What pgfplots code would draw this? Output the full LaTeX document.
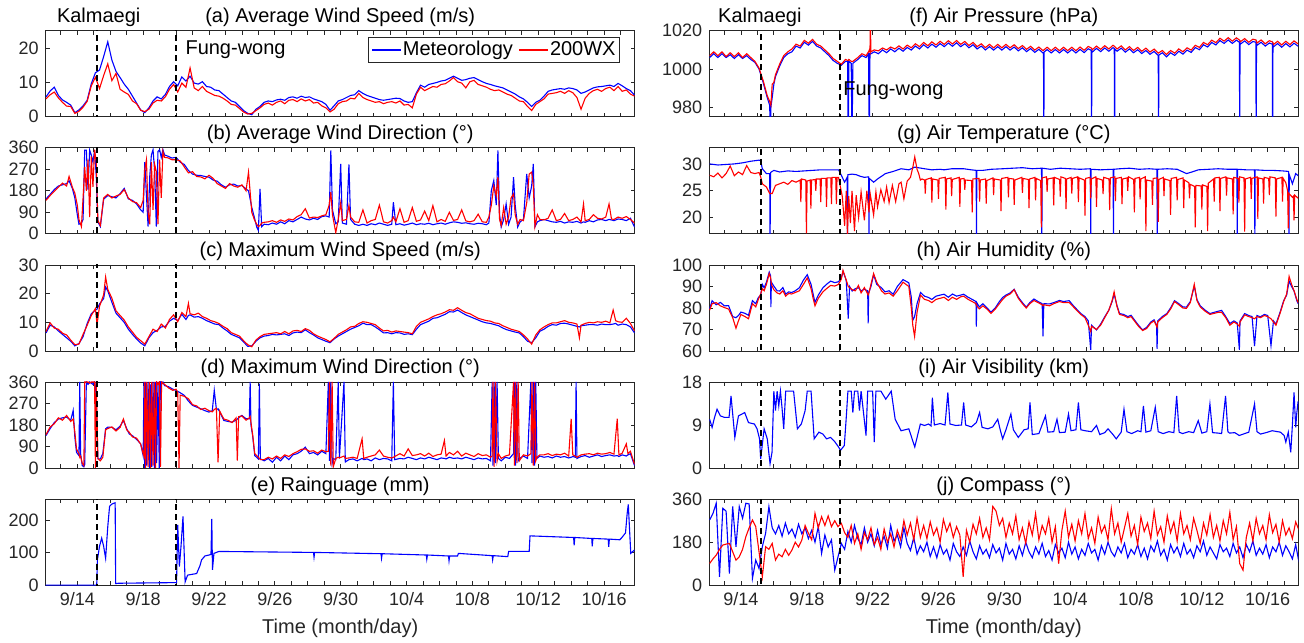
\documentclass[border=0pt]{standalone}
\usepackage{pgfplots}
\usepackage{pgfplotstable}
\pgfplotsset{compat=1.18}
\usepackage{fontspec}
\setmainfont{Liberation Sans}
\definecolor{met}{RGB}{0,0,255}
\definecolor{wx}{RGB}{255,0,0}
\definecolor{axgray}{RGB}{38,38,38}

\pgfplotsset{legend image code/.code={\draw[#1] (0pt,0pt) -- (14.5pt,0pt);}}
\pgfplotsset{
  panel/.style={
    scale only axis, width=294.5pt, height=43pt, anchor=south west,
    xmin=12.08, xmax=47.86,
    xtick={14,18,...,46}, minor xtick={13,...,47},
    xticklabels={},
    tick align=inside,
    major tick length=2pt, minor tick length=2pt,
    tick style={axgray, line width=0.4pt},
    axis line style={axgray, line width=0.4pt},
    tick label style={font=\fontsize{9}{10}\selectfont, text=axgray},
    every axis title/.style={at={(0.5,1)}, anchor=base, yshift=4pt, font=\fontsize{10}{12}\selectfont},
    /pgf/number format/assume math mode=true,
    /pgf/number format/1000 sep={},
    scaled y ticks=false,
    clip mode=individual,
    every axis plot/.append style={line width=0.55pt},
  },
  datepanel/.style={
    xticklabels={9/14,9/18,9/22,9/26,9/30,10/4,10/8,10/12,10/16},
    xlabel={Time (month/day)},
    xlabel style={font=\fontsize{10}{12}\selectfont, text=axgray},
  },
  kline/.style={black, dash pattern=on 3pt off 2pt, line width=0.9pt, forget plot},
}

% (a) average wind speed
\pgfplotstableread{
t m w
12.10 5.8 5.2
12.35 7.5 6.4
12.60 8.6 7.2
12.85 6.2 5.5
13.10 4.9 4.2
13.35 4.2 3.1
13.60 3.4 3.0
13.85 1.2 1.0
14.10 2.0 1.6
14.35 3.2 2.8
14.60 4.8 4.5
14.85 9.6 9.0
15.10 12.8 11.5
15.35 13.6 8.2
15.60 17.5 12.0
15.85 21.8 15.4
16.10 16.5 10.5
16.35 13.2 12.6
16.60 11.4 8.0
16.85 9.5 7.2
17.10 8.0 6.5
17.35 6.0 4.6
17.60 4.0 3.8
17.85 2.0 1.9
18.10 1.2 1.5
18.35 2.6 2.2
18.60 4.6 4.0
18.85 5.8 4.8
19.10 5.2 4.6
19.35 6.5 5.8
19.60 8.8 8.0
19.85 10.2 9.4
20.10 9.0 7.2
20.35 11.6 9.8
20.60 10.4 8.6
20.85 11.8 14.2
21.10 9.8 8.4
21.35 9.5 7.6
21.60 10.2 8.8
21.85 8.8 7.4
22.10 8.6 6.8
22.35 7.8 6.2
22.60 7.6 6.0
22.85 6.6 5.4
23.10 5.6 4.6
23.35 4.6 3.6
23.60 4.2 3.4
23.85 3.0 2.4
24.10 1.8 1.4
24.35 1.0 0.8
24.60 0.6 1.0
24.85 2.2 1.8
25.10 3.0 2.6
25.35 4.2 3.6
25.60 4.6 4.0
25.85 4.4 3.4
26.10 4.9 4.2
26.35 5.1 4.6
26.60 4.8 3.8
26.85 5.6 4.8
27.10 5.8 5.0
27.35 5.4 4.4
27.60 6.0 5.2
27.85 5.6 4.6
28.10 5.8 5.0
28.35 5.2 4.0
28.60 4.8 4.2
28.85 4.4 3.2
29.10 3.6 2.6
29.35 1.9 1.4
29.60 3.2 2.2
29.85 4.6 3.8
30.10 5.0 4.4
30.35 5.6 4.6
30.60 6.2 5.4
30.85 6.4 5.2
31.10 7.6 6.8
31.35 6.8 5.6
31.60 6.2 5.0
31.85 5.8 4.6
32.10 5.4 4.2
32.35 5.0 4.4
32.60 4.8 3.8
32.85 5.0 4.2
33.10 5.2 4.4
33.35 5.4 4.0
33.60 5.3 4.6
33.85 4.6 3.4
34.10 4.2 3.6
34.35 4.4 2.6
34.60 7.0 6.6
34.85 9.2 8.6
35.10 8.6 7.6
35.35 9.4 8.2
35.60 9.7 8.8
35.85 10.0 8.6
36.10 10.4 9.4
36.35 10.6 9.6
36.60 11.2 10.4
36.85 11.8 11.4
37.10 11.2 10.2
37.35 10.6 9.8
37.60 10.8 8.4
37.85 11.2 10.2
38.10 11.4 10.6
38.35 10.8 9.4
38.60 10.2 9.0
38.85 9.7 8.6
39.10 9.4 8.0
39.35 9.0 7.6
39.60 8.7 7.8
39.85 8.4 7.2
40.10 7.8 6.6
40.35 7.2 6.2
40.60 6.6 5.4
40.85 5.8 4.6
41.10 5.2 4.4
41.35 4.2 3.0
41.60 3.0 1.8
41.85 4.2 3.6
42.10 4.8 4.4
42.35 6.0 5.2
42.60 7.4 6.6
42.85 7.8 6.8
43.10 8.0 7.0
43.35 8.2 7.4
43.60 8.0 6.8
43.85 8.4 7.6
44.10 8.2 7.0
44.35 7.8 5.6
44.60 6.8 2.2
44.85 7.2 5.4
45.10 7.8 6.8
45.35 8.4 7.6
45.60 8.7 8.0
45.85 8.8 7.4
46.10 9.0 8.2
46.35 9.2 8.6
46.60 8.8 7.6
46.85 9.7 8.8
47.10 9.0 7.4
47.35 8.2 7.8
47.60 7.6 6.6
47.85 6.3 6.0
}\tabA

% (b) average wind direction
\pgfplotstableread{
t m w
12.10 146 140
12.35 165 160
12.60 185 178
12.85 200 195
13.10 205 212
13.35 210 200
13.50 222 240
13.70 190 195
13.85 150 170
14.00 80 120
14.10 40 60
14.25 45 30
14.35 60 150
14.45 350 280
14.55 350 180
14.65 185 310
14.75 350 70
14.85 330 324
14.95 300 197
15.05 350 352
15.15 240 300
15.25 50 56
15.40 30 35
15.60 145 150
15.85 160 165
16.10 155 150
16.35 150 158
16.60 168 165
16.85 190 185
17.10 146 150
17.35 140 135
17.60 125 130
17.85 100 110
18.00 90 140
18.10 300 270
18.20 160 310
18.30 30 90
18.40 240 40
18.50 330 300
18.60 352 100
18.70 260 290
18.80 30 260
18.90 345 40
19.00 352 310
19.10 320 150
19.20 352 345
19.30 330 320
19.50 325 318
19.75 317 310
20.00 320 310
20.25 300 305
20.50 290 280
20.75 265 255
21.00 250 260
21.25 245 240
21.50 244 238
21.75 240 230
22.00 237 245
22.25 225 232
22.50 220 210
22.75 205 200
23.00 195 190
23.25 205 210
23.50 208 200
23.75 200 195
24.00 202 205
24.25 188 180
24.40 180 258
24.60 110 90
24.75 70 60
24.90 28 40
25.00 14 30
25.10 188 35
25.20 30 45
25.35 40 48
25.60 38 50
25.85 45 55
26.10 40 48
26.35 50 58
26.60 42 52
26.85 55 62
27.10 50 58
27.35 60 72
27.60 70 80
27.85 62 105
28.10 58 66
28.35 65 70
28.60 60 68
28.85 72 75
29.10 75 80
29.30 70 120
29.40 349 174
29.50 100 80
29.70 42 5
29.85 50 60
30.00 293 130
30.10 45 55
30.35 40 60
30.50 290 118
30.60 60 70
30.85 40 50
31.10 35 48
31.35 40 100
31.60 35 45
31.85 42 55
32.10 38 60
32.35 45 120
32.60 40 50
32.85 35 45
33.10 40 55
33.20 132 70
33.35 38 50
33.60 42 105
33.85 36 48
34.10 40 55
34.35 45 110
34.60 38 52
34.85 42 58
35.10 40 95
35.35 44 55
35.60 38 118
35.85 42 50
36.10 45 60
36.35 40 52
36.60 46 90
36.85 50 56
37.10 48 60
37.35 44 100
37.60 46 54
37.85 42 50
38.10 40 55
38.35 44 82
38.60 42 50
38.85 38 48
39.00 45 70
39.15 181 120
39.30 223 200
39.45 120 160
39.55 349 237
39.65 80 60
39.75 28 35
39.90 60 110
40.05 125 40
40.20 40 70
40.35 70 150
40.50 237 167
40.60 120 80
40.75 28 40
40.90 50 60
41.10 60 55
41.30 251 130
41.45 150 250
41.60 200 258
41.70 293 200
41.80 30 30
41.95 50 80
42.10 55 60
42.35 60 58
42.60 55 65
42.85 50 100
43.10 48 55
43.35 52 60
43.60 45 85
43.85 50 55
44.10 48 60
44.35 52 70
44.60 45 50
44.75 50 125
44.85 48 55
45.10 55 60
45.35 50 80
45.60 58 65
45.85 60 62
46.10 55 70
46.30 60 125
46.45 58 62
46.60 55 60
46.85 62 70
47.10 60 65
47.35 55 72
47.60 65 60
47.85 28 45
}\tabB

% (c) maximum wind speed
\pgfplotstableread{
t m w
12.10 6.3 6.8
12.35 9.0 9.8
12.60 8.4 8.0
12.85 7.0 7.6
13.10 5.8 6.2
13.35 4.6 5.6
13.60 3.4 3.8
13.85 1.8 2.2
14.10 2.6 2.4
14.35 5.0 5.8
14.60 9.6 9.0
14.85 13.0 12.4
15.10 14.3 14.8
15.20 14.6 9.2
15.35 16.4 15.6
15.60 18.3 19.6
15.72 22.3 25.8
15.85 21.0 21.5
16.10 17.0 18.4
16.35 13.2 14.0
16.60 11.6 12.4
16.85 10.0 10.8
17.10 7.6 8.4
17.35 5.8 6.6
17.60 4.2 4.8
17.85 2.8 3.6
18.10 1.8 2.4
18.35 4.6 5.0
18.60 6.4 7.6
18.85 7.2 6.8
19.10 8.4 9.4
19.35 8.6 8.0
19.60 10.4 11.0
19.85 11.4 12.6
20.10 10.6 10.2
20.35 12.8 13.4
20.60 11.0 12.0
20.75 12.4 16.6
20.85 12.6 13.0
21.10 11.8 12.6
21.35 12.0 13.2
21.60 11.4 12.0
21.85 10.6 11.4
22.10 10.0 10.6
22.35 9.4 10.2
22.60 9.2 9.6
22.85 8.0 8.6
23.10 7.0 7.8
23.35 5.8 6.4
23.60 5.2 5.8
23.85 4.6 5.2
24.10 3.2 3.6
24.35 1.6 2.2
24.60 1.8 1.5
24.85 3.4 3.8
25.10 4.6 5.0
25.35 5.2 5.8
25.60 5.4 6.0
25.85 5.8 6.2
26.10 5.6 6.4
26.35 5.8 6.0
26.60 6.0 6.8
26.85 5.4 6.0
27.10 6.3 7.0
27.35 6.6 7.2
27.60 6.4 6.8
27.85 7.4 7.8
28.10 6.4 7.2
28.35 5.6 6.0
28.60 4.6 5.2
28.85 4.0 4.6
29.10 3.4 4.0
29.35 2.9 3.2
29.60 4.2 4.4
29.85 5.2 5.8
30.10 6.0 6.6
30.35 6.8 7.4
30.60 7.6 8.4
30.85 8.2 8.6
31.10 8.8 9.6
31.35 9.7 10.2
31.60 9.2 10.0
31.85 9.2 9.6
32.10 8.4 9.2
32.35 7.4 8.0
32.60 6.3 7.0
32.85 6.4 7.2
33.10 6.0 6.6
33.35 6.4 7.0
33.60 6.3 6.8
33.85 5.8 6.6
34.10 6.0 6.4
34.35 5.7 6.0
34.60 7.6 8.6
34.85 9.2 10.0
35.10 9.8 10.6
35.35 10.4 11.2
35.60 11.4 12.0
35.85 11.6 12.6
36.10 12.2 13.0
36.35 12.8 13.6
36.60 13.7 14.4
36.85 13.6 14.2
37.10 14.3 15.1
37.35 13.4 14.2
37.60 12.6 13.4
37.85 12.0 13.0
38.10 11.4 12.2
38.35 10.8 11.4
38.60 10.2 11.0
38.85 9.8 10.6
39.10 9.6 10.4
39.35 9.2 9.8
39.60 8.8 9.6
39.85 8.0 8.8
40.10 7.4 8.2
40.35 7.0 7.6
40.60 6.6 7.2
40.85 6.3 6.8
41.10 5.0 5.6
41.35 3.4 4.2
41.60 2.9 2.4
41.85 4.6 5.6
42.10 6.9 7.4
42.35 7.6 8.4
42.60 8.6 9.2
42.85 9.2 9.8
43.10 9.0 9.8
43.35 9.6 10.2
43.60 9.7 10.6
43.85 9.4 10.0
44.10 9.0 9.8
44.35 8.6 9.4
44.50 8.4 4.6
44.60 8.8 9.0
44.85 9.0 9.6
45.10 9.2 10.0
45.35 9.2 9.8
45.60 9.0 10.2
45.85 9.4 10.0
46.10 9.2 10.4
46.35 9.2 9.8
46.55 9.4 14.3
46.70 9.6 10.6
46.85 9.0 10.2
47.10 9.4 10.0
47.35 9.2 11.4
47.60 8.4 9.6
47.85 6.3 7.0
}\tabC

% (d) maximum wind direction
\pgfplotstableread{
t m w
12.10 136 140
12.35 165 172
12.60 190 185
12.85 205 210
13.10 210 200
13.35 213 220
13.60 200 195
13.75 241 205
13.85 130 150
13.95 66 80
14.10 52 60
14.15 360 45
14.20 60 50
14.30 10 20
14.40 5 10
14.45 15 360
14.55 360 360
14.65 350 360
14.75 360 355
14.85 355 360
14.95 350 360
15.05 360 360
15.10 340 0
15.15 300 360
15.25 38 40
15.40 38 30
15.55 60 45
15.72 164 160
15.85 171 165
16.10 170 172
16.35 160 155
16.60 175 170
16.80 199 205
17.00 165 160
17.15 143 150
17.35 135 130
17.60 120 125
17.85 101 100
18.00 52 60
18.05 360 50
18.10 0 360
18.15 360 0
18.22 10 360
18.30 360 5
18.38 0 360
18.45 350 0
18.52 5 360
18.60 360 10
18.68 0 360
18.75 360 0
18.82 20 360
18.90 360 350
18.98 0 360
19.05 360 5
19.12 350 360
19.20 360 355
19.30 345 350
19.55 340 335
19.80 330 325
20.00 325 330
20.10 320 315
20.18 318 0
20.25 315 305
20.50 304 300
20.75 280 290
21.00 262 265
21.25 255 260
21.50 248 245
21.75 240 250
22.00 234 240
22.20 240 235
22.32 325 245
22.45 245 250
22.55 248 24
22.65 235 238
22.90 199 205
23.15 195 200
23.40 192 190
23.65 200 210
23.72 205 31
23.80 210 215
24.00 220 218
24.25 206 200
24.45 206 210
24.50 360 215
24.55 180 190
24.65 136 140
24.78 52 60
25.00 38 45
25.06 353 40
25.12 38 35
25.35 30 35
25.60 40 45
25.85 24 38
26.10 45 50
26.35 30 40
26.60 50 55
26.85 35 48
27.10 55 60
27.35 60 68
27.60 70 78
27.85 87 80
28.10 60 70
28.35 65 72
28.60 55 62
28.85 70 75
29.10 60 68
29.25 360 70
29.32 30 360
29.40 360 10
29.48 20 360
29.55 40 5
29.70 35 40
29.85 360 45
29.92 40 42
30.20 360 50
30.28 25 40
30.50 35 42
30.75 38 45
31.00 30 40
31.30 40 122
31.40 35 40
31.60 38 45
31.85 30 50
32.10 42 55
32.35 35 75
32.60 40 50
32.85 38 45
33.10 30 42
33.20 360 45
33.28 35 48
33.60 40 60
33.85 38 50
34.10 45 80
34.35 40 52
34.60 35 55
34.85 42 60
35.10 38 50
35.35 45 62
35.60 40 48
35.85 35 55
36.10 42 58
36.30 40 115
36.40 38 50
36.60 45 65
36.85 40 55
37.10 42 70
37.35 38 50
37.60 45 62
37.85 40 55
38.10 35 48
38.35 42 60
38.60 38 52
38.85 40 55
39.10 30 45
39.20 360 50
39.25 10 360
39.32 360 5
39.40 20 360
39.50 360 30
39.58 40 60
39.75 30 40
40.00 45 50
40.25 40 55
40.50 60 360
40.55 360 10
40.62 10 360
40.70 360 20
40.78 30 360
40.85 40 30
41.10 50 55
41.35 40 50
41.55 360 60
41.62 20 360
41.70 360 10
41.78 10 360
41.85 360 30
41.92 40 45
42.10 50 55
42.35 45 55
42.60 48 60
42.85 42 52
43.10 50 58
43.35 45 55
43.60 48 62
43.85 42 50
44.00 45 206
44.10 48 55
44.25 45 50
44.30 360 48
44.35 40 45
44.60 48 55
44.85 52 58
45.10 45 60
45.35 50 55
45.60 55 62
45.85 48 58
46.10 52 60
46.35 55 65
46.60 50 58
46.80 52 206
46.90 48 55
47.10 55 62
47.35 50 101
47.45 55 60
47.60 60 70
47.85 10 15
}\tabD

% (e) rainguage
\pgfplotstableread{
t m
12.08 0
15.18 0
15.22 78
15.35 120
15.48 145
15.60 120
15.72 83
15.85 180
15.96 243
16.10 250
16.30 254
16.33 5
16.50 6
20.00 8
20.03 8
20.10 186
20.20 57
20.30 120
20.42 212
20.55 10
20.70 31
21.25 36
21.45 60
21.55 78
21.75 90
22.00 93
22.12 95
22.17 204
22.21 47
22.30 98
22.60 104
28.35 101
28.38 86
28.42 101
32.45 97
32.48 83
32.52 97
35.20 93
35.23 80
35.27 93
36.55 90
36.58 75
36.62 90
37.10 90
37.15 98
39.20 91
39.23 78
39.27 91
40.15 88
40.20 104
41.45 104
41.50 152
44.15 147
44.18 123
44.22 147
45.25 144
45.28 120
45.32 144
46.25 142
46.28 118
46.32 142
46.95 140
47.05 145
47.30 161
47.40 220
47.47 249
47.62 98
47.85 109
}\tabE

% (f) air pressure
\pgfplotstableread{
t m w
12.10 1006 1007
12.35 1008 1009
12.60 1006 1007
12.85 1008 1009
13.10 1006 1006.5
13.35 1007.5 1008.5
13.60 1005.5 1006.5
13.85 1007.5 1008.5
14.10 1005.5 1006
14.35 1007 1008
14.60 1005 1006
14.85 1003.5 1004
15.10 1000 1000.5
15.35 993 994
15.60 985 986
15.75 981 983
15.78 960 982
15.82 980 981
15.90 985 992
16.00 992 993
16.10 996 997
16.35 1001.5 1002.5
16.60 1006 1007
16.85 1008 1009
17.10 1009 1010.5
17.35 1012 1013
17.60 1011 1012
17.85 1014 1015
18.10 1012.5 1013.5
18.35 1014.5 1015.5
18.60 1012 1013
18.85 1011 1012
19.10 1009 1010
19.35 1007 1008
19.60 1004.5 1005.5
19.85 1003 1004
20.10 1002 1002.5
20.35 1004 1005
20.48 1004 1004.5
20.52 960 1004.5
20.56 1004 1005
20.70 1003 1004
20.75 960 1004
20.80 1003 1004
21.10 1005 1006
21.35 1007 1008
21.60 1006 1007
21.75 1008 1009
21.80 960 1010
21.84 1008 1009
21.86 1008 1025
21.90 1008 1009
22.10 1009 1010
22.35 1008 1009.5
22.60 1010 1011
22.85 1008.5 1010
23.10 1010.5 1011.5
23.35 1009 1010.5
23.60 1010.9 1012.1
23.85 1009.3 1010.5
24.10 1011.3 1012.5
24.35 1009.9 1011.1
24.60 1012.0 1013.2
24.85 1010.5 1011.7
25.10 1012.7 1013.9
25.35 1011.0 1012.2
25.60 1013.0 1014.2
25.85 1011.4 1012.6
26.10 1013.3 1014.5
26.35 1011.7 1012.9
26.60 1013.6 1014.8
26.85 1011.9 1013.1
27.10 1013.7 1014.9
27.35 1011.7 1012.9
27.60 1013.2 1014.4
27.85 1011.1 1012.3
28.10 1012.7 1013.9
28.35 1010.5 1011.7
28.60 1012.0 1013.2
28.85 1010.0 1011.2
29.10 1011.7 1012.9
29.35 1009.9 1011.1
29.60 1011.7 1012.9
29.85 1009.9 1011.1
30.10 1011.7 1012.9
30.35 1009.9 1011.1
30.60 1011.5 1012.7
30.85 1009.5 1010.7
31.10 1011.1 1012.3
31.35 1009.1 1010.3
31.60 1010.7 1011.9
31.85 1008.7 1009.9
32.10 1010.3 1011.5
32.35 1008.4 1009.6
32.38 1008.6 1009.8
32.40 960 1010.0
32.42 1008.9 1010.1
32.60 1010.2 1011.4
32.85 1008.4 1009.6
33.10 1010.2 1011.4
33.35 1008.4 1009.6
33.60 1010.2 1011.4
33.85 1008.4 1009.6
34.10 1010.2 1011.4
34.35 1008.4 1009.6
34.60 1010.3 1011.5
34.85 1008.6 1009.8
35.10 1010.6 1011.8
35.28 1009.8 1011.0
35.30 960 1010.8
35.32 1009.4 1010.6
35.35 1008.9 1010.1
35.60 1010.8 1012.0
35.85 1009.1 1010.3
36.10 1011.0 1012.2
36.35 1009.3 1010.5
36.60 1011.2 1012.4
36.68 1010.8 1012.0
36.70 960 1011.8
36.72 1010.4 1011.6
36.85 1009.3 1010.5
37.10 1010.9 1012.1
37.35 1008.8 1010.0
37.60 1010.5 1011.7
37.85 1008.5 1009.7
38.10 1010.1 1011.3
38.35 1008.1 1009.3
38.60 1009.7 1010.9
38.85 1007.7 1008.9
39.10 1009.2 1010.4
39.35 1007.1 1008.3
39.37 960 1008.4
39.39 1007.3 1008.5
39.60 1008.5 1009.7
39.85 1006.4 1007.6
40.10 1008.5 1009.7
40.35 1007.1 1008.3
40.60 1009.3 1010.5
40.85 1007.8 1009.0
41.10 1009.9 1011.1
41.35 1008.7 1009.9
41.60 1011.2 1012.4
41.85 1010.1 1011.3
42.10 1012.7 1013.9
42.35 1011.5 1012.7
42.60 1013.9 1015.1
42.85 1012.6 1013.8
43.10 1014.9 1016.1
43.35 1013.4 1014.6
43.60 1015.2 1016.4
43.85 1013.4 1014.6
44.10 1015.1 1016.3
44.28 1014.0 1015.2
44.30 960 1015.0
44.32 1013.6 1014.8
44.35 1013.1 1014.3
44.60 1014.7 1015.9
44.85 1012.8 1014.0
45.10 1014.4 1015.6
45.28 1014.0 1015.2
45.30 960 1014.9
45.32 1013.4 1014.6
45.35 1012.4 1013.6
45.60 1014.0 1015.2
45.85 1012.0 1013.2
46.10 1013.6 1014.8
46.28 1013.0 1014.2
46.30 960 1014.0
46.32 1012.6 1013.8
46.35 1011.6 1012.8
46.60 1013.3 1014.5
46.85 1011.4 1012.6
47.10 1013.3 1014.5
47.35 1011.6 1012.8
47.60 1013.5 1014.7
47.85 1011.9 1013.1
}\tabF

% (g) air temperature, meteorology
\pgfplotstableread{
t m
12.10 30.0
12.60 29.8
13.10 29.9
13.60 30.0
14.10 30.2
14.60 30.5
15.10 30.7
15.20 30.6
15.30 29.1
15.55 28.2
15.75 28.2
15.77 15
15.80 28.4
16.00 28.8
16.35 28.5
16.85 28.7
17.35 28.6
17.85 28.7
18.35 28.8
18.85 28.9
19.35 28.9
19.93 28.9
20.16 27.5
20.30 26.6
20.45 27.5
20.47 15
20.50 28.0
20.75 28.1
21.00 28.0
21.25 27.7
21.50 27.5
21.76 27.6
21.78 15
21.80 27.3
22.06 26.6
22.30 27.2
22.78 28.2
23.25 28.6
23.73 29.1
24.20 28.9
24.56 29.4
25.15 29.1
25.60 28.9
26.10 29.0
26.34 28.9
26.80 29.1
27.53 29.1
28.00 28.9
28.29 28.8
28.31 15
28.33 28.8
28.70 28.8
29.20 29.0
29.90 29.1
30.50 29.2
31.10 29.3
31.70 29.1
32.26 29.2
32.28 15
32.30 29.2
32.80 29.0
33.40 29.2
34.00 29.1
34.60 29.0
35.23 29.1
35.25 15
35.27 29.0
35.84 28.9
36.61 29.0
36.63 15
36.65 29.0
37.00 29.1
37.60 29.2
38.20 29.0
38.80 29.1
39.27 29.0
39.29 15
39.31 29.0
39.90 29.1
40.50 29.0
41.07 28.2
41.40 28.5
41.78 28.9
42.40 29.0
43.00 29.1
43.60 29.0
44.13 29.0
44.15 15
44.17 29.0
44.70 28.9
45.20 28.9
45.22 15
45.24 28.9
45.80 28.8
46.30 28.8
46.90 28.7
47.27 28.6
47.29 15
47.31 28.0
47.50 26.3
47.70 28.2
47.85 27.8
}\tabGm

% (g) air temperature, 200WX
\pgfplotstableread{
t w
12.10 27.9
12.35 27.6
12.60 28.3
12.85 27.4
13.10 28.2
13.35 29.6
13.60 27.8
13.85 28.5
14.10 28.0
14.35 29.7
14.60 28.4
14.85 28.2
15.10 28.4
15.20 27.6
15.30 26.3
15.55 25.7
15.75 24.5
15.90 24.5
16.10 26.0
16.35 26.3
16.60 26.6
16.85 26.2
17.10 26.9
17.35 26.6
17.60 27.0
17.64 22.9
17.68 27.2
17.94 27.0
17.98 17.1
18.02 26.8
18.21 27.0
18.25 21.7
18.29 27.0
18.51 27.1
18.55 25.0
18.59 27.2
18.81 27.2
18.85 22.9
18.89 27.3
19.16 27.3
19.20 22.0
19.24 27.4
19.46 27.4
19.50 22.5
19.54 27.5
19.76 27.5
19.80 22.5
19.84 27.5
19.93 27.5
20.16 23.9
20.30 18.5
20.40 25.0
20.47 17
20.55 24.0
20.65 19.0
20.75 25.0
20.90 17.5
21.00 24.2
21.15 20.0
21.30 24.8
21.50 19.5
21.65 25.0
21.78 21.0
21.85 24.5
22.06 20.5
22.20 24.8
22.30 22.0
22.50 25.2
22.70 23.0
22.85 25.7
23.00 22.8
23.20 26.0
23.40 23.0
23.60 26.3
23.73 26.6
23.90 23.5
24.10 26.8
24.30 27.5
24.45 29.5
24.56 31.3
24.70 29.0
24.80 28.2
24.90 27.0
25.00 27.2
25.16 27.0
25.20 24.5
25.24 27.1
25.56 27.4
25.60 22.8
25.64 27.2
25.96 27.0
26.00 23.5
26.04 27.3
26.41 27.5
26.45 21.5
26.49 27.2
26.76 27.4
26.80 24.0
26.84 27.1
27.26 27.5
27.30 22.0
27.34 27.2
27.56 27.3
27.60 25.2
27.64 27.0
28.01 26.9
28.05 21.0
28.09 27.2
28.46 27.3
28.50 23.0
28.54 27.0
28.86 27.2
28.90 22.6
28.94 26.9
29.31 27.4
29.35 24.2
29.39 27.2
29.76 27.0
29.80 21.2
29.84 27.3
30.21 27.5
30.25 23.8
30.29 27.3
30.56 27.2
30.60 22.4
30.64 27.0
31.06 27.5
31.10 24.6
31.14 27.3
31.46 27.1
31.50 21.8
31.54 27.2
31.86 27.5
31.90 23.2
31.94 27.3
32.21 26.9
32.25 18.2
32.29 27.4
32.56 27.6
32.60 24.8
32.64 27.2
32.96 27.4
33.00 22.3
33.04 27.5
33.36 27.1
33.40 23.9
33.44 27.6
33.71 27.3
33.75 21.6
33.79 27.2
34.06 27.5
34.10 24.5
34.14 27.3
34.46 27.6
34.50 22.9
34.54 27.4
34.86 27.0
34.90 20.4
34.94 27.3
35.21 27.5
35.25 23.6
35.29 27.2
35.56 27.6
35.60 22.0
35.64 27.3
35.96 27.0
36.00 24.4
36.04 27.5
36.36 27.2
36.40 21.4
36.44 27.4
36.71 27.6
36.75 23.1
36.79 27.3
37.11 27.5
37.15 22.5
37.19 27.2
37.46 27.4
37.50 25.0
37.54 27.6
37.86 27.1
37.90 21.0
37.94 27.3
38.21 27.5
38.25 23.4
38.29 27.2
38.56 27.6
38.60 17.5
38.64 27.0
38.96 26.8
39.00 22.4
39.04 27.3
39.31 27.4
39.35 19.2
39.39 27.1
39.66 27.5
39.70 24.0
39.74 27.2
40.06 26.9
40.10 20.5
40.14 27.3
40.46 27.5
40.50 23.2
40.54 27.1
40.86 27.4
40.90 21.8
40.94 27.0
41.21 26.5
41.25 23.6
41.29 26.2
41.56 25.8
41.60 18.2
41.64 26.0
41.96 25.9
42.00 21.5
42.04 26.1
42.31 25.8
42.35 17.5
42.39 26.4
42.71 27.2
42.75 23.0
42.79 27.4
43.06 27.5
43.10 21.2
43.14 27.3
43.46 27.6
43.50 24.1
43.54 27.4
43.86 27.2
43.90 20.6
43.94 27.5
44.21 27.3
44.25 22.8
44.29 27.6
44.56 27.4
44.60 17.4
44.64 27.2
44.96 27.5
45.00 23.5
45.04 27.3
45.36 27.6
45.40 19.8
45.44 27.4
45.71 27.2
45.75 22.6
45.79 27.5
46.06 27.3
46.10 24.2
46.14 27.6
46.46 27.4
46.50 20.2
46.54 27.2
46.86 27.5
46.90 23.0
46.94 27.3
47.10 26.5
47.21 25.0
47.25 18.0
47.29 24.5
47.50 23.8
47.56 24.0
47.60 19.5
47.64 24.2
47.85 23.6
}\tabGw

% (h) air humidity
\pgfplotstableread{
t m w
12.10 79.6 79.0
12.25 83.4 82.0
12.50 81.5 82.5
12.75 82.6 81.0
13.00 81.0 80.2
13.25 81.1 79.5
13.50 76.0 75.5
13.70 75.5 70.6
13.85 76.5 74.0
14.00 78.1 77.0
14.25 77.5 76.0
14.46 76.6 75.0
14.70 83.4 82.0
14.90 82.0 80.5
15.06 84.9 84.0
15.20 86.0 86.5
15.30 91.0 89.0
15.41 89.4 88.0
15.55 92.0 91.0
15.72 96.7 96.0
15.80 95.0 94.0
15.82 80.4 93.5
15.85 92.0 91.0
16.00 90.2 88.5
16.20 88.0 87.0
16.36 87.9 86.5
16.55 89.5 88.0
16.72 86.4 85.5
16.90 87.5 86.8
17.08 87.2 86.5
17.30 88.0 87.2
17.55 89.4 88.0
17.80 93.0 91.0
18.03 95.5 94.0
18.26 91.0 89.0
18.40 86.0 84.0
18.50 82.6 81.0
18.70 86.0 84.5
18.98 89.4 87.5
19.20 91.0 89.0
19.45 92.5 90.5
19.70 91.8 90.2
19.93 92.2 91.0
20.10 94.0 93.5
20.20 97.0 97.5
20.35 94.0 94.0
20.40 92.5 93.0
20.52 75.1 90.0
20.60 90.0 89.5
20.76 87.9 88.5
20.95 89.0 88.0
21.14 89.4 90.5
21.30 88.0 87.0
21.50 88.7 89.5
21.70 88.0 86.5
21.73 72.8 86.0
21.76 87.0 86.5
21.90 90.0 91.0
22.06 95.5 96.0
22.25 91.0 92.0
22.54 89.4 88.0
22.75 87.5 86.5
23.00 88.0 87.0
23.25 86.4 85.5
23.50 90.0 88.0
23.85 93.2 92.0
24.20 91.7 90.0
24.35 85.0 80.0
24.44 74.3 72.0
24.55 76.0 66.8
24.70 82.0 78.0
24.91 87.2 86.0
25.15 85.5 84.0
25.39 84.9 83.5
25.60 84.0 82.5
25.85 85.5 84.0
26.10 86.0 84.5
26.34 86.4 85.0
26.60 85.0 83.5
26.85 86.5 85.0
27.10 85.5 84.0
27.35 86.0 85.2
27.53 86.4 85.5
27.80 85.0 84.0
28.05 84.0 83.0
28.28 83.0 82.0
28.30 71.3 81.5
28.33 82.5 81.0
28.48 80.5 79.6
28.70 82.0 81.0
28.95 80.0 79.5
29.19 78.1 77.5
29.45 80.0 79.5
29.70 83.0 82.0
29.90 84.9 84.0
30.10 86.0 85.5
30.35 87.0 86.5
30.60 88.7 88.5
30.85 85.0 84.5
31.10 82.5 82.0
31.33 80.4 80.0
31.55 82.5 82.0
31.80 84.2 83.5
32.05 83.0 82.5
32.30 82.0 81.5
32.35 66.8 81.0
32.40 82.0 81.5
32.75 81.9 81.0
33.00 82.5 82.0
33.35 83.5 83.0
33.60 83.0 82.5
33.94 83.4 82.5
34.20 81.0 80.5
34.45 79.0 78.5
34.65 77.4 77.0
34.90 76.0 75.5
35.10 74.0 72.0
35.25 60.5 69.0
35.30 72.0 71.5
35.60 69.8 70.0
35.85 72.5 72.0
36.10 75.9 75.5
36.35 79.0 79.0
36.55 83.0 83.5
36.67 86.4 87.5
36.85 81.0 80.5
37.00 77.4 77.0
37.25 77.0 76.5
37.50 76.0 75.5
37.70 76.6 76.0
37.95 74.0 73.5
38.15 72.0 71.5
38.40 69.8 69.5
38.65 71.0 70.5
38.90 73.5 73.0
39.10 74.5 74.0
39.25 72.0 71.5
39.28 61.0 71.0
39.32 74.0 73.5
39.60 76.0 75.5
39.87 77.4 77.0
40.10 80.0 79.5
40.34 83.4 83.0
40.60 82.0 81.5
40.85 80.5 80.0
41.06 80.4 79.8
41.30 83.0 82.5
41.54 90.2 91.0
41.70 84.0 83.5
41.90 81.0 80.5
42.20 79.0 78.5
42.49 77.4 77.0
42.75 78.0 77.5
43.00 78.5 78.0
43.20 78.9 78.0
43.45 76.0 75.5
43.70 72.8 72.0
43.95 74.0 73.5
44.15 73.0 72.5
44.28 60.5 71.5
44.32 74.0 73.5
44.60 77.4 76.8
44.85 76.5 76.0
45.05 76.0 75.5
45.20 62.3 75.0
45.35 76.5 76.0
45.55 75.9 75.5
45.80 77.0 76.5
46.00 76.5 76.0
46.20 62.5 75.0
46.35 74.0 73.5
46.50 72.5 72.0
46.75 78.0 77.5
46.97 83.4 83.0
47.15 86.0 86.5
47.30 92.5 94.7
47.45 90.0 91.0
47.60 87.9 88.0
47.77 83.4 84.0
47.85 82.0 82.5
}\tabH

% (i) air visibility
\pgfplotstableread{
t m
12.10 10.2
12.25 8.5
12.40 10.6
12.55 12.3
12.75 10.9
13.00 10.6
13.28 10.6
13.40 15.1
13.63 6.4
13.85 10.9
14.23 11.6
14.46 9.5
14.82 9.2
14.98 8.2
15.13 6.1
15.20 1.9
15.41 8.2
15.60 6.1
15.77 0.9
15.89 3.3
16.00 16.1
16.10 12.0
16.20 16.1
16.30 13.0
16.40 16.1
16.50 12.5
16.60 8.2
16.72 16.1
17.00 16.1
17.20 16.1
17.43 8.2
17.67 9.2
17.90 12.0
18.03 16.1
18.26 16.1
18.45 6.1
18.74 7.5
18.98 7.1
19.20 6.1
19.45 6.4
19.70 5.5
19.93 4.4
20.05 3.7
20.28 4.7
20.40 10.6
20.50 16.1
20.70 16.1
20.80 11.6
20.90 16.1
21.10 16.1
21.20 12.0
21.30 16.1
21.60 6.8
21.70 16.1
22.00 16.1
22.10 5.4
22.20 16.1
22.50 16.1
22.80 14.4
23.13 16.1
23.37 10.2
23.73 7.8
24.20 8.2
24.56 4.4
24.90 9.2
25.15 8.9
25.40 9.2
25.55 8.8
25.63 14.7
25.75 9.0
26.10 9.3
26.40 9.0
26.57 15.8
26.70 9.2
27.05 8.9
27.40 9.0
27.53 13.7
27.65 9.0
28.00 8.6
28.30 9.5
28.50 11.6
28.65 8.5
29.00 8.2
29.30 8.6
29.60 10.2
29.75 8.0
29.90 6.1
30.10 8.0
30.40 11.3
30.55 8.0
30.85 6.4
31.20 8.0
31.45 8.2
31.56 13.7
31.70 7.0
32.10 7.2
32.50 10.9
32.65 7.5
33.00 7.6
33.20 10.2
33.35 7.4
33.70 7.5
33.90 11.3
34.05 7.8
34.35 8.0
34.50 13.7
34.65 8.0
34.90 7.8
35.30 7.6
35.60 8.9
35.80 7.0
36.10 7.4
36.30 8.2
36.60 7.0
36.80 6.1
37.10 7.5
37.27 12.3
37.45 7.6
37.74 7.2
38.10 7.8
38.30 7.6
38.45 13.0
38.60 7.5
38.90 7.8
39.17 12.7
39.35 7.6
39.64 7.2
40.00 7.6
40.30 7.4
40.47 15.1
40.62 7.5
40.83 7.2
41.20 7.6
41.50 7.4
41.78 9.9
42.00 7.3
42.30 7.6
42.49 13.4
42.65 7.4
43.00 7.3
43.20 7.2
43.44 15.1
43.58 7.6
43.68 7.3
44.00 7.4
44.27 6.8
44.60 7.2
44.85 7.5
45.20 13.4
45.35 7.6
45.56 7.1
45.90 7.4
46.27 7.8
46.60 7.6
46.77 7.5
47.00 6.8
47.10 5.4
47.25 7.5
47.40 3.3
47.50 9.0
47.60 15.8
47.70 8.5
47.77 11.6
47.85 14.0
}\tabI

% (j) compass
\pgfplotstableread{
t m w
12.1 273 91
12.3 300 110
12.5 343 126
12.7 35 150
12.9 322 168
13.1 310 172
13.3 49 175
13.5 330 140
13.7 161 105
13.9 329 119
14.1 280 150
14.3 343 203
14.5 340 240
14.7 28 273
14.9 105 245
15.1 70 140
15.3 161 35
15.5 217 161
15.7 329 150
15.9 240 175
16.1 215 105
16.3 250 130
16.5 205 119
16.7 260 150
16.9 215 125
17.1 235 147
17.3 200 180
17.5 255 160
17.7 215 189
17.9 240 250
18.1 195 217
18.3 230 190
18.5 180 301
18.7 245 240
18.9 133 287
19.1 210 250
19.3 160 290
19.5 190 245
19.7 63 270
19.9 119 245
20.1 175 259
20.3 150 220
20.5 225 200
20.7 180 250
20.9 250 175
21.1 195 215
21.3 170 150
21.5 240 220
21.7 180 190
21.9 215 240
22.1 165 170
22.3 230 200
22.5 170 150
22.7 205 235
22.9 155 180
23.1 250 215
23.3 185 160
23.5 210 230
23.7 160 190
23.9 240 270
24.1 175 210
24.3 145 260
24.5 200 190
24.7 130 280
24.9 165 200
25.1 140 250
25.3 180 195
25.5 120 265
25.7 160 210
25.9 115 240
26.1 170 180
26.3 130 275
26.5 150 225
26.7 105 260
26.9 175 200
27.1 140 245
27.3 120 210
27.5 160 35
27.7 125 230
27.9 185 180
28.1 140 255
28.3 110 215
28.5 165 280
28.7 130 200
28.9 150 240
29.1 115 190
29.3 170 330
29.5 135 310
29.7 155 250
29.9 105 280
30.1 175 200
30.3 130 260
30.5 150 215
30.7 110 290
30.9 165 190
31.1 125 240
31.3 180 175
31.5 140 265
31.7 115 210
31.9 160 300
32.1 130 190
32.3 175 250
32.5 120 215
32.7 145 280
32.9 105 180
33.1 170 245
33.3 135 90
33.5 155 230
33.7 115 310
33.9 180 200
34.1 130 255
34.3 160 185
34.5 110 270
34.7 150 215
34.9 125 300
35.1 175 195
35.3 135 240
35.5 150 175
35.7 105 285
35.9 165 220
36.1 130 250
36.3 180 190
36.5 140 320
36.7 120 215
36.9 160 260
37.1 135 180
37.3 175 240
37.5 115 300
37.7 150 205
37.9 130 250
38.1 170 170
38.3 120 285
38.5 155 225
38.7 110 260
38.9 165 195
39.1 140 310
39.3 185 210
39.5 125 245
39.7 150 180
39.9 105 290
40.1 170 220
40.3 135 265
40.5 160 185
40.7 120 300
40.9 175 215
41.1 130 250
41.3 150 190
41.5 115 280
41.7 165 230
41.9 140 175
42.1 185 260
42.3 125 210
42.5 160 295
42.7 135 200
42.9 110 250
43.1 170 185
43.3 140 270
43.5 155 215
43.7 120 305
43.9 175 190
44.1 135 245
44.3 160 90
44.5 115 63
44.7 170 200
44.9 140 260
45.1 185 185
45.3 125 280
45.5 155 215
45.7 130 250
45.9 170 190
46.1 115 295
46.3 160 220
46.5 140 255
46.7 180 180
46.9 125 270
47.1 165 210
47.3 140 240
47.5 110 195
47.7 170 265
47.9 95 230
}\tabJ

\begin{document}
\begin{tikzpicture}[x=1pt,y=1pt]
\path[use as bounding box] (0,0) rectangle (652,321);

% ---------- left column ----------
\begin{axis}[panel, at={(22.85pt,262.6pt)}, ymin=0, ymax=25, ytick={0,10,20},
  title={(a) Average Wind Speed (m/s)},
  legend style={at={(0.975,0.93)}, anchor=north east, legend columns=2,
    font=\fontsize{10}{12}\selectfont, draw=axgray, line width=0.4pt,
    inner sep=1.5pt, row sep=0pt,
    nodes={inner sep=0.5pt},
    /tikz/every even column/.append style={column sep=2.5pt}}]
\addplot[draw=met] table[x=t,y=m] {\tabA};
\addlegendentry{Meteorology}
\addplot[draw=wx] table[x=t,y=w] {\tabA};
\addlegendentry{200WX}
\addplot[kline] coordinates {(15.2,-100) (15.2,100)};
\addplot[kline] coordinates {(20.0,-100) (20.0,100)};
\node[anchor=base, font=\fontsize{10}{12}\selectfont, inner sep=0pt] at (axis cs:15.3,25) [yshift=4pt] {Kalmaegi};
\node[anchor=west, font=\fontsize{10}{12}\selectfont, inner sep=0pt] at (axis cs:20.55,19.5) {Fung-wong};
\end{axis}

\begin{axis}[panel, at={(22.85pt,204.1pt)}, ymin=0, ymax=360, ytick={0,90,180,270,360},
  title={(b) Average Wind Direction (°)}]
\addplot[met] table[x=t,y=m] {\tabB};
\addplot[wx] table[x=t,y=w] {\tabB};
\addplot[kline] coordinates {(15.2,-1000) (15.2,1000)};
\addplot[kline] coordinates {(20.0,-1000) (20.0,1000)};
\end{axis}

\begin{axis}[panel, at={(22.85pt,145.5pt)}, ymin=0, ymax=30, ytick={0,10,20,30},
  title={(c) Maximum Wind Speed (m/s)}]
\addplot[met] table[x=t,y=m] {\tabC};
\addplot[wx] table[x=t,y=w] {\tabC};
\addplot[kline] coordinates {(15.2,-100) (15.2,100)};
\addplot[kline] coordinates {(20.0,-100) (20.0,100)};
\end{axis}

\begin{axis}[panel, at={(22.85pt,87.0pt)}, ymin=0, ymax=360, ytick={0,90,180,270,360},
  title={(d) Maximum Wind Direction (°)}]
\addplot[met] table[x=t,y=m] {\tabD};
\addplot[wx] table[x=t,y=w] {\tabD};
\addplot[kline] coordinates {(15.2,-1000) (15.2,1000)};
\addplot[kline] coordinates {(20.0,-1000) (20.0,1000)};
\end{axis}

\begin{axis}[panel, datepanel, at={(22.85pt,28.4pt)}, ymin=0, ymax=265, ytick={0,100,200},
  title={(e) Rainguage (mm)}]
\addplot[met] table[x=t,y=m] {\tabE};
\addplot[kline] coordinates {(15.2,-1000) (15.2,1000)};
\addplot[kline] coordinates {(20.0,-1000) (20.0,1000)};
\end{axis}

% ---------- right column ----------
\begin{axis}[panel, at={(354.65pt,262.6pt)}, ymin=975, ymax=1020, ytick={980,1000,1020},
  title={(f) Air Pressure (hPa)}]
\addplot[met] table[x=t,y=m] {\tabF};
\addplot[wx] table[x=t,y=w] {\tabF};
\addplot[kline] coordinates {(15.2,900) (15.2,1100)};
\addplot[kline] coordinates {(20.0,900) (20.0,1100)};
\node[anchor=base, font=\fontsize{10}{12}\selectfont, inner sep=0pt] at (axis cs:15.15,1020) [yshift=4pt] {Kalmaegi};
\node[anchor=west, font=\fontsize{10}{12}\selectfont, inner sep=0pt] at (axis cs:20.2,988.5) {Fung-wong};
\end{axis}

\begin{axis}[panel, at={(354.65pt,204.1pt)}, ymin=17, ymax=33, ytick={20,25,30},
  title={(g) Air Temperature (°C)}]
\addplot[met] table[x=t,y=m] {\tabGm};
\addplot[wx] table[x=t,y=w] {\tabGw};
\addplot[kline] coordinates {(15.2,0) (15.2,50)};
\addplot[kline] coordinates {(20.0,0) (20.0,50)};
\end{axis}

\begin{axis}[panel, at={(354.65pt,145.5pt)}, ymin=60, ymax=100, ytick={60,70,80,90,100},
  title={(h) Air Humidity (\%)}]
\addplot[met] table[x=t,y=m] {\tabH};
\addplot[wx] table[x=t,y=w] {\tabH};
\addplot[kline] coordinates {(15.2,0) (15.2,200)};
\addplot[kline] coordinates {(20.0,0) (20.0,200)};
\end{axis}

\begin{axis}[panel, at={(354.65pt,87.0pt)}, ymin=0, ymax=18, ytick={0,9,18},
  title={(i) Air Visibility (km)}]
\addplot[met] table[x=t,y=m] {\tabI};
\addplot[kline] coordinates {(15.2,-100) (15.2,100)};
\addplot[kline] coordinates {(20.0,-100) (20.0,100)};
\end{axis}

\begin{axis}[panel, datepanel, at={(354.65pt,28.4pt)}, ymin=0, ymax=360, ytick={0,180,360},
  title={(j) Compass (°)}]
\addplot[met] table[x=t,y=m] {\tabJ};
\addplot[wx] table[x=t,y=w] {\tabJ};
\addplot[kline] coordinates {(15.2,-1000) (15.2,1000)};
\addplot[kline] coordinates {(20.0,-1000) (20.0,1000)};
\end{axis}
\end{tikzpicture}
\end{document}
